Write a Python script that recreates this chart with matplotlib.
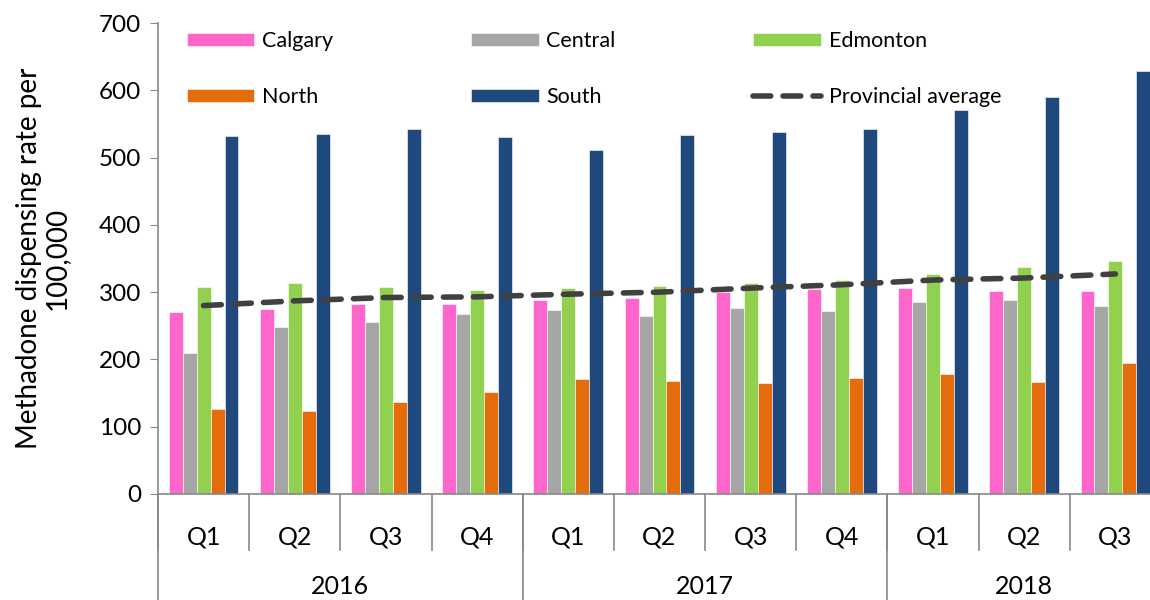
import matplotlib
matplotlib.use("Agg")
import matplotlib.pyplot as plt
import numpy as np

plt.rcParams['font.family'] = ['Lato', 'DejaVu Sans']

quarters = ["Q1", "Q2", "Q3", "Q4", "Q1", "Q2", "Q3", "Q4", "Q1", "Q2", "Q3"]
years = ["2016", "2017", "2018"]
year_groups = [4, 4, 3]

calgary = [270, 275, 282, 282, 289, 292, 300, 304, 306, 301, 301]
central = [210, 248, 255, 268, 273, 264, 276, 272, 286, 288, 280]
edmonton = [308, 313, 308, 303, 306, 309, 313, 318, 327, 338, 346]
north = [127, 123, 137, 151, 171, 168, 165, 172, 179, 167, 195]
south = [532, 535, 542, 530, 511, 533, 538, 543, 570, 590, 628]
provincial = [280, 287, 292, 293, 297, 300, 306, 311, 318, 321, 327]

series = [
    ("Calgary", calgary, "#FF66CC"),
    ("Central", central, "#A6A6A6"),
    ("Edmonton", edmonton, "#92D050"),
    ("North", north, "#E46C0A"),
    ("South", south, "#1F497D"),
]

fig = plt.figure(figsize=(11.5, 6), dpi=100)
ax = fig.add_axes([158 / 1150, 106 / 600, 1003 / 1150, 471 / 600])

x = np.arange(len(quarters))
w = 0.153
handles = []
for i, (name, vals, col) in enumerate(series):
    b = ax.bar(x + (i - 2) * w, vals, w, color=col, edgecolor="white",
               linewidth=0.4, label=name)
    handles.append(b)

line, = ax.plot(x, provincial, color="#404040", lw=4, ls=(0, (3.2, 2.2)),
                dash_capstyle="round", label="Provincial average")

ax.set_xlim(-0.5, len(quarters) - 0.5)
ax.set_ylim(0, 700)
ax.set_yticks(range(0, 701, 100))
ax.tick_params(axis="y", labelsize=17.5, length=6, color="#888888", pad=6)
ax.set_xticks([])

for s in ["top", "right"]:
    ax.spines[s].set_visible(False)
for s in ["left", "bottom"]:
    ax.spines[s].set_color("#888888")
    ax.spines[s].set_linewidth(1.2)

ax.set_ylabel("Methadone dispensing rate per\n100,000", fontsize=20,
              linespacing=1.1)
ax.yaxis.set_label_coords(-0.088, 0.5)

# two level category axis
trans = ax.get_xaxis_transform()
for k in range(len(quarters) + 1):
    ax.plot([k - 0.5, k - 0.5], [0, -56 / 471], transform=trans,
            color="#888888", lw=1.2, clip_on=False)
for k, q in enumerate(quarters):
    ax.text(k, -43 / 471, q, transform=trans, ha="center", va="center",
            fontsize=18)

start = 0
for yr, n in zip(years, year_groups):
    ax.plot([start - 0.5, start - 0.5], [0, -110 / 471], transform=trans,
            color="#888888", lw=1.2, clip_on=False)
    ax.text(start + (n - 1) / 2, -92 / 471, yr, transform=trans,
            ha="center", va="center", fontsize=18)
    start += n

# matplotlib fills legend columns first, so order for row-wise reading
order = [handles[0], handles[3], handles[1], handles[4], handles[2], line]
ax.legend(order, [h.get_label() for h in order], ncol=3, loc="upper left",
          bbox_to_anchor=(0.02, 1.002), borderaxespad=0, frameon=False,
          fontsize=15.5, handlelength=3.15, handleheight=0.55,
          handletextpad=0.35, columnspacing=6.4, labelspacing=1.7)

fig.savefig("out.png", dpi=100)
